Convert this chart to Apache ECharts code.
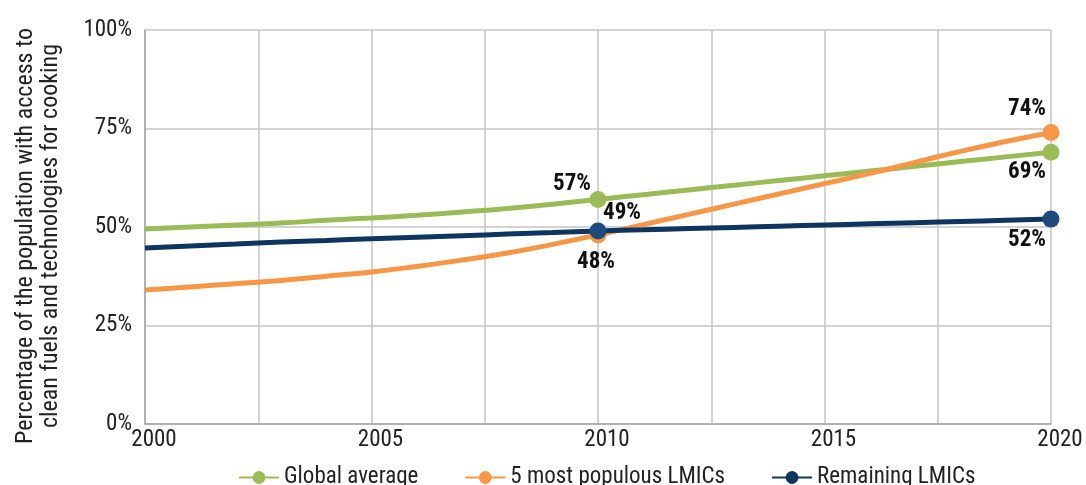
<!DOCTYPE html>
<html>
<head>
<meta charset="utf-8">
<script src="https://cdn.jsdelivr.net/npm/echarts@6/dist/echarts.min.js"></script>
<style>
  html, body { margin: 0; padding: 0; background: #fff; }
  #chart { width: 1086px; height: 485px; }
</style>
</head>
<body>
<div id="chart"></div>
<script>
// years and values (%)
var years = [2000, 2001, 2002, 2003, 2004, 2005, 2006, 2007, 2008, 2009, 2010,
             2011, 2012, 2013, 2014, 2015, 2016, 2017, 2018, 2019, 2020];
var globalAvg = [49.5, 50, 50.5, 51, 51.7, 52.3, 53, 53.8, 54.7, 55.8, 57,
                 58.2, 59.4, 60.6, 61.8, 63, 64.2, 65.4, 66.6, 67.8, 69];
var populous5 = [34, 34.8, 35.6, 36.4, 37.5, 38.6, 40, 41.6, 43.4, 45.6, 48,
                 50.6, 53.2, 55.8, 58.4, 61, 63.6, 66.4, 69.2, 71.7, 74];
var remaining = [44.7, 45.2, 45.7, 46.2, 46.6, 47, 47.4, 47.8, 48.2, 48.6, 49,
                 49.3, 49.6, 49.9, 50.2, 50.5, 50.8, 51.1, 51.4, 51.7, 52];
var seriesNames = ['Global average', '5 most populous LMICs', 'Remaining LMICs'];
var yTicks = [0, 25, 50, 75, 100];
var yTitle = 'Percentage of the population with access to\nclean fuels and technologies for cooking';

var font = "'Roboto Condensed','Liberation Sans Narrow','DejaVu Sans Condensed',Roboto,sans-serif";

// label offsets for the highlighted points (2010 and 2020)
var labelPos = {
  'Global average': { 2010: [-26, -15], 2020: [-24, 20] },
  '5 most populous LMICs': { 2010: [-2, 27], 2020: [-24, -23] },
  'Remaining LMICs': { 2010: [24, -18], 2020: [-24, 21] }
};

function buildData(name, vals, pointColor) {
  return years.map(function (y, i) {
    var item = { value: [y, vals[i]] };
    if (y === 2010 || y === 2020) {
      item.symbolSize = 17;
      item.itemStyle = { color: pointColor };
      item.label = {
        show: true,
        position: 'inside',
        offset: labelPos[name][y],
        formatter: Math.round(vals[i]) + '%',
        fontFamily: font,
        fontWeight: 'bold',
        fontSize: 23,
        color: '#111'
      };
    }
    return item;
  });
}

function lineSeries(name, vals, color, pointColor, z) {
  return {
    name: name,
    type: 'line',
    smooth: true,
    symbol: 'circle',
    symbolSize: 0,
    showSymbol: true,
    z: z,
    itemStyle: { color: color },
    lineStyle: { color: color, width: 5 },
    data: buildData(name, vals, pointColor)
  };
}

var myChart = echarts.init(document.getElementById('chart'));
myChart.setOption({
  animation: false,
  textStyle: { fontFamily: font },
  grid: { left: 145, right: 35, top: 30, bottom: 61, containLabel: false, outerBoundsMode: 'none' },
  legend: {
    top: 461,
    left: 233,
    itemWidth: 40,
    itemHeight: 16,
    itemGap: 46,
    data: seriesNames,
    textStyle: { fontFamily: font, fontSize: 23, color: '#222' }
  },
  xAxis: {
    type: 'value',
    min: 2000,
    max: 2020,
    interval: 2.5,
    axisLine: { show: true, lineStyle: { color: '#a6a6a6', width: 1.5 } },
    axisTick: { show: false },
    splitLine: { show: true, lineStyle: { color: '#c4c4c4', width: 1.5 } },
    axisLabel: {
      fontFamily: font,
      fontSize: 23,
      color: '#222',
      margin: 5,
      padding: [0, 0, 0, 18],
      formatter: function (v) { return v % 5 === 0 ? String(v) : ''; }
    }
  },
  yAxis: {
    type: 'value',
    min: yTicks[0],
    max: yTicks[yTicks.length - 1],
    interval: 25,
    name: yTitle,
    nameLocation: 'middle',
    nameRotate: 90,
    nameGap: 82,
    nameTextStyle: { fontFamily: font, fontSize: 24, lineHeight: 25, color: '#222', padding: [0, 18, 0, 0] },
    axisLine: { show: true, lineStyle: { color: '#a6a6a6', width: 1.5 } },
    axisTick: { show: false },
    splitLine: { show: true, lineStyle: { color: '#c4c4c4', width: 1.5 } },
    axisLabel: {
      fontFamily: font,
      fontSize: 23,
      color: '#222',
      margin: 13,
      formatter: '{value}%'
    }
  },
  series: [
    lineSeries(seriesNames[0], globalAvg, '#9BBB59', '#9BBB59', 3),
    lineSeries(seriesNames[1], populous5, '#F79646', '#F79646', 4),
    lineSeries(seriesNames[2], remaining, '#0D3560', '#1F4A7E', 5)
  ]
});
</script>
</body>
</html>
